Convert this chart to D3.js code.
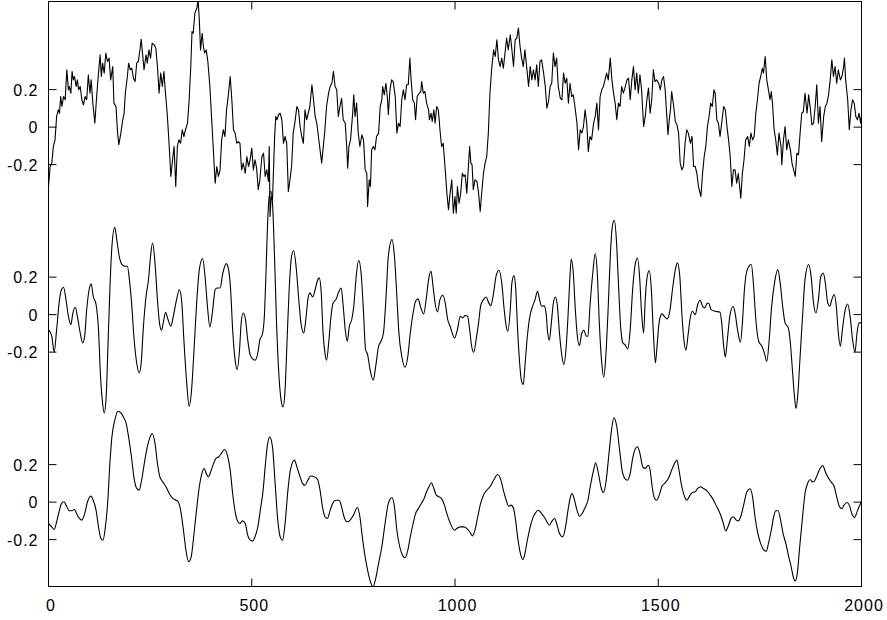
<!DOCTYPE html>
<html>
<head>
<meta charset="utf-8">
<script src="https://cdn.jsdelivr.net/npm/d3@7"></script>
<style>
  body { margin: 0; background: white; }
</style>
</head>
<body>
<div id="viz-container"></div>
<script>
// three traces, stacked one unit apart on a shared y scale
// each point is [sample, value]
let topSeries = [
[0,-0.317],[4,-0.210],[8,-0.192],[12,-0.103],[16,-0.068],[20,0.057],[24,0.092],[27,0.074],[30,0.163],[33,0.110],[37,0.163],[41,0.146],[45,0.306],[49,0.199],[51,0.217],[55,0.181],[58,0.297],[61,0.252],[64,0.270],[68,0.217],[71,0.252],[74,0.199],[78,0.217],[82,0.146],[86,0.119],[90,0.163],[94,0.146],[98,0.279],[102,0.181],[105,0.252],[109,0.128],[114,0.021],[119,0.181],[123,0.288],[127,0.386],[130,0.270],[133,0.341],[137,0.288],[141,0.395],[145,0.350],[149,0.368],[153,0.252],[158,0.323],[161,0.128],[166,0.110],[170,-0.032],[173,-0.094],[178,-0.032],[182,0.030],[186,0.074],[189,0.181],[194,0.270],[197,0.341],[201,0.306],[205,0.314],[209,0.261],[213,0.243],[217,0.341],[221,0.350],[225,0.412],[228,0.469],[232,0.377],[235,0.306],[240,0.386],[243,0.341],[247,0.412],[251,0.368],[255,0.448],[260,0.439],[264,0.421],[268,0.323],[272,0.181],[276,0.288],[280,0.217],[284,0.297],[287,0.199],[292,0.074],[297,-0.103],[301,-0.263],[306,-0.157],[309,-0.103],[313,-0.317],[317,-0.103],[321,-0.068],[325,-0.086],[329,-0.014],[333,-0.050],[337,-0.014],[342,0.021],[346,0.146],[350,0.323],[353,0.510],[356,0.501],[360,0.608],[365,0.635],[368,0.680],[371,0.572],[374,0.412],[378,0.501],[381,0.430],[384,0.395],[388,0.412],[392,0.350],[397,0.217],[401,0.057],[406,-0.139],[410,-0.299],[414,-0.210],[418,-0.263],[422,-0.228],[426,-0.068],[430,-0.014],[434,-0.050],[438,0.092],[442,0.163],[447,0.270],[451,0.146],[455,-0.014],[459,-0.032],[463,-0.086],[467,-0.077],[471,-0.086],[475,-0.228],[479,-0.192],
[484,-0.246],[488,-0.157],[492,-0.210],[496,-0.174],[500,-0.112],[504,-0.228],[508,-0.174],[512,-0.219],[516,-0.334],[520,-0.281],[525,-0.157],[529,-0.139],[533,-0.263],[537,-0.228],[541,-0.290],[543,-0.103],[545,-0.477],[548,-0.370],[551,-0.388],[556,-0.068],[559,0.057],[562,0.039],[566,0.066],[570,0.074],[574,0.039],[578,-0.086],[582,-0.050],[586,-0.086],[590,-0.343],[594,-0.281],[598,-0.210],[602,-0.032],[607,0.039],[611,0.110],[615,0.092],[619,0.003],[623,-0.050],[627,-0.086],[631,0.092],[635,0.039],[639,0.074],[643,0.110],[648,0.226],[652,0.146],[656,0.057],[660,0.021],[664,-0.050],[668,-0.121],[672,-0.192],[676,-0.103],[680,-0.014],[684,0.110],[689,0.181],[693,0.217],[697,0.234],[701,0.297],[705,0.217],[709,0.199],[713,0.057],[717,0.110],[721,0.154],[725,0.039],[730,0.021],[734,-0.121],[736,-0.219],[739,-0.103],[743,-0.068],[748,0.066],[751,0.172],[754,0.057],[758,0.128],[762,-0.032],[766,-0.103],[771,-0.041],[775,-0.068],[779,-0.228],[783,-0.246],[785,-0.423],[789,-0.281],[792,-0.317],[795,-0.121],[799,-0.103],[803,-0.121],[807,-0.050],[812,-0.032],[816,0.110],[820,0.146],[822,0.217],[826,0.172],[830,0.234],[834,0.146],[836,0.066],[840,0.199],[844,0.252],[848,0.243],[853,0.163],[857,-0.032],[861,0.021],[865,0.003],[869,0.146],[873,0.199],[877,0.146],[881,0.226],[885,0.226],[889,0.368],[892,0.252],[896,0.146],[900,0.128],[903,0.039],[907,0.163],[912,0.181],[916,0.190],[918,0.243],[922,0.181],[926,0.190],[930,0.128],[935,0.092],[937,0.039],[941,0.074],[944,0.030],[948,0.092],[951,0.021],[955,0.110],[959,0.092],[963,-0.014],[967,-0.103],[971,-0.086],[976,-0.228],[980,-0.352],[984,-0.441],[988,-0.352],[992,-0.281],[996,-0.459],
[1000,-0.370],[1003,-0.459],[1006,-0.317],[1010,-0.406],[1014,-0.352],[1018,-0.246],[1022,-0.263],[1025,-0.254],[1029,-0.352],[1033,-0.210],[1036,-0.103],[1039,-0.192],[1042,-0.201],[1045,-0.334],[1049,-0.281],[1054,-0.290],[1058,-0.352],[1062,-0.450],[1066,-0.343],[1070,-0.246],[1074,-0.192],[1078,-0.157],[1082,-0.032],[1086,0.181],[1090,0.306],[1095,0.412],[1099,0.377],[1103,0.466],[1107,0.359],[1111,0.323],[1115,0.368],[1119,0.314],[1123,0.395],[1127,0.475],[1131,0.412],[1136,0.492],[1140,0.412],[1144,0.323],[1148,0.466],[1152,0.475],[1156,0.528],[1160,0.430],[1164,0.368],[1168,0.323],[1172,0.412],[1177,0.306],[1181,0.217],[1185,0.323],[1189,0.252],[1193,0.306],[1197,0.252],[1201,0.332],[1205,0.217],[1209,0.350],[1213,0.359],[1218,0.288],[1222,0.217],[1226,0.101],[1230,0.137],[1234,0.217],[1238,0.234],[1242,0.395],[1246,0.323],[1250,0.368],[1254,0.217],[1259,0.154],[1263,0.146],[1267,0.288],[1271,0.234],[1275,0.261],[1279,0.128],[1283,0.234],[1287,0.163],[1291,0.172],[1295,0.110],[1300,0.021],[1304,-0.121],[1308,-0.014],[1312,-0.032],[1316,0.003],[1320,0.092],[1324,0.021],[1328,-0.130],[1332,-0.050],[1336,-0.068],[1341,0.021],[1345,0.057],[1349,0.128],[1353,-0.014],[1357,0.163],[1361,0.199],[1365,0.217],[1369,0.252],[1373,0.288],[1377,0.252],[1382,0.368],[1386,0.252],[1390,0.181],[1394,0.128],[1398,0.039],[1402,0.128],[1406,0.110],[1410,0.217],[1414,0.181],[1418,0.208],[1423,0.252],[1427,0.261],[1431,0.146],[1435,0.252],[1439,0.323],[1443,0.199],[1447,0.288],[1451,0.181],[1455,0.279],[1459,0.199],[1464,0.003],[1468,0.057],[1472,0.146],[1476,0.208],[1480,0.074],[1484,0.146],[1488,0.306],[1492,0.243],[1496,0.252],
[1501,0.234],[1505,0.199],[1509,0.252],[1513,0.270],[1517,0.199],[1521,0.057],[1524,-0.041],[1527,0.039],[1530,0.092],[1533,0.190],[1538,0.110],[1542,0.030],[1546,0.012],[1550,-0.032],[1554,-0.192],[1558,-0.228],[1562,-0.210],[1566,-0.086],[1570,-0.014],[1574,-0.032],[1579,-0.086],[1583,-0.050],[1587,-0.210],[1591,-0.210],[1595,-0.246],[1599,-0.317],[1605,-0.370],[1609,-0.246],[1613,-0.157],[1617,-0.103],[1621,0.003],[1625,0.057],[1629,0.128],[1633,0.110],[1637,0.199],[1640,0.181],[1644,0.039],[1648,0.021],[1652,-0.050],[1656,0.021],[1661,0.110],[1665,0.092],[1669,0.003],[1673,-0.068],[1677,-0.157],[1681,-0.317],[1685,-0.228],[1689,-0.228],[1693,-0.299],[1697,-0.246],[1703,-0.379],[1707,-0.246],[1711,-0.174],[1715,-0.068],[1720,-0.050],[1724,-0.103],[1728,-0.032],[1732,-0.068],[1736,-0.050],[1740,0.074],[1744,0.146],[1748,0.234],[1752,0.270],[1756,0.314],[1759,0.288],[1763,0.377],[1767,0.252],[1771,0.199],[1775,0.146],[1778,0.190],[1781,0.128],[1785,-0.014],[1789,-0.068],[1793,-0.148],[1797,-0.032],[1802,-0.103],[1804,-0.201],[1808,-0.068],[1812,0.003],[1816,-0.121],[1820,-0.068],[1825,-0.121],[1829,-0.192],[1833,-0.228],[1837,-0.263],[1841,-0.139],[1845,-0.148],[1849,-0.032],[1853,0.074],[1857,0.083],[1861,0.181],[1866,0.074],[1870,0.172],[1874,0.101],[1878,0.012],[1882,0.021],[1886,0.110],[1890,0.226],[1894,0.021],[1898,0.110],[1902,-0.077],[1907,0.057],[1911,0.110],[1915,0.128],[1919,0.172],[1923,0.252],[1927,0.359],[1931,0.270],[1935,0.323],[1939,0.234],[1943,0.306],[1948,0.252],[1952,0.270],[1956,0.323],[1958,0.368],[1961,0.252],[1966,0.146],[1970,-0.014],[1974,0.092],[1978,0.146],[1982,0.128],[1986,0.057],[1990,0.039],[1994,0.074],[1998,0.021],[2000,0.060]
];

let middleSeries = [
[0,-0.080],[8,-0.115],[14,-0.199],[20,-0.080],[27,0.080],[32,0.134],[37,0.146],[43,0.080],[49,-0.009],[55,-0.053],[60,0.009],[66,0.039],[71,-0.009],[78,-0.098],[84,-0.151],[89,-0.115],[94,0.027],[100,0.134],[105,0.164],[110,0.098],[117,0.054],[123,-0.080],[128,-0.329],[133,-0.471],[137,-0.524],[142,-0.435],[146,-0.186],[151,0.134],[156,0.365],[163,0.466],[168,0.400],[174,0.311],[181,0.267],[188,0.258],[194,0.258],[199,0.187],[205,0.045],[210,-0.115],[217,-0.258],[223,-0.311],[228,-0.258],[233,-0.080],[240,0.098],[246,0.187],[251,0.311],[256,0.382],[262,0.276],[268,0.080],[273,-0.044],[278,-0.083],[283,-0.035],[288,0.013],[294,-0.026],[301,-0.062],[307,-0.009],[315,0.080],[322,0.134],[328,0.062],[333,-0.133],[340,-0.364],[346,-0.489],[352,-0.400],[358,-0.186],[365,0.080],[371,0.240],[379,0.299],[385,0.205],[391,0.045],[397,-0.066],[404,0.027],[410,0.134],[415,0.142],[422,0.142],[429,0.222],[437,0.272],[443,0.240],[448,0.134],[453,-0.080],[459,-0.240],[464,-0.293],[470,-0.186],[474,-0.044],[479,0.009],
[484,-0.018],[490,-0.133],[496,-0.213],[502,-0.236],[508,-0.243],[515,-0.204],[520,-0.133],[526,-0.107],[531,-0.009],[535,0.222],[539,0.489],[543,0.631],[547,0.658],[551,0.596],[556,0.311],[561,-0.044],[567,-0.329],[572,-0.453],[577,-0.492],[582,-0.400],[587,-0.133],[592,0.134],[598,0.311],[603,0.342],[609,0.258],[615,0.098],[621,-0.044],[628,-0.098],[633,-0.026],[638,0.080],[643,0.116],[650,0.094],[656,0.134],[661,0.178],[666,0.196],[671,0.116],[675,-0.080],[680,-0.204],[684,-0.243],[690,-0.133],[695,-0.009],[700,0.062],[707,0.080],[713,0.116],[720,0.142],[725,0.045],[730,-0.080],[735,-0.142],[740,-0.062],[746,-0.026],[751,0.045],[757,0.205],[763,0.290],[769,0.222],[775,0.009],[780,-0.186],[785,-0.213],[791,-0.293],[799,-0.350],[805,-0.275],[812,-0.169],[818,-0.142],[824,-0.098],[830,0.080],[836,0.311],[845,0.400],[851,0.311],[857,0.098],[862,-0.098],[869,-0.222],[877,-0.281],[884,-0.222],[890,-0.098],[897,0.009],[903,0.071],[909,0.084],[916,0.036],[923,0.004],[929,0.080],[935,0.187],[941,0.231],[946,0.151],[951,0.062],[957,0.014],[963,0.080],[970,0.103],[976,0.062],[982,-0.026],[988,-0.062],[999,-0.124],
[1006,-0.080],[1013,-0.009],[1019,-0.018],[1025,-0.005],[1031,-0.009],[1036,-0.080],[1041,-0.169],[1046,-0.201],[1052,-0.133],[1058,-0.044],[1063,0.045],[1070,0.080],[1077,0.094],[1083,0.062],[1088,0.048],[1095,0.116],[1101,0.205],[1108,0.237],[1115,0.169],[1121,0.027],[1126,-0.062],[1130,-0.089],[1136,0.027],[1140,0.169],[1145,0.208],[1149,0.151],[1154,-0.080],[1159,-0.258],[1163,-0.347],[1168,-0.373],[1172,-0.275],[1178,-0.115],[1185,0.000],[1191,0.045],[1197,0.080],[1203,0.125],[1208,0.080],[1213,0.045],[1219,0.048],[1224,0.009],[1228,-0.098],[1232,-0.137],[1237,-0.044],[1242,0.062],[1247,0.094],[1252,0.045],[1257,-0.098],[1263,-0.222],[1268,-0.267],[1273,-0.186],[1278,-0.009],[1282,0.169],[1286,0.297],[1291,0.222],[1296,0.027],[1301,-0.115],[1306,-0.165],[1312,-0.098],[1317,-0.083],[1323,-0.115],[1327,-0.115],[1332,0.045],[1339,0.222],[1345,0.326],[1350,0.222],[1355,-0.044],[1361,-0.258],[1366,-0.334],[1371,-0.222],[1377,0.045],[1382,0.311],[1387,0.471],[1392,0.503],[1397,0.400],[1402,0.169],[1408,-0.080],[1413,-0.151],[1418,-0.160],[1425,-0.183],[1431,-0.080],[1437,0.134],[1444,0.276],[1449,0.302],[1454,0.205],[1459,0.009],[1464,-0.098],[1468,0.080],[1473,0.205],[1478,0.235],[1483,0.134],[1488,-0.098],[1493,-0.258],
[1497,-0.169],[1502,-0.044],[1509,0.004],[1515,-0.009],[1522,-0.023],[1529,0.027],[1535,0.134],[1542,0.240],[1547,0.276],[1553,0.205],[1558,0.009],[1563,-0.133],[1568,-0.190],[1573,-0.115],[1578,-0.026],[1584,0.018],[1591,0.000],[1597,0.054],[1603,0.077],[1609,0.045],[1614,0.036],[1620,0.059],[1624,0.062],[1630,0.027],[1640,0.018],[1652,0.013],[1656,-0.044],[1661,-0.169],[1665,-0.226],[1670,-0.133],[1676,-0.009],[1684,0.045],[1689,0.009],[1695,-0.080],[1702,-0.147],[1707,-0.044],[1712,0.134],[1719,0.240],[1729,0.267],[1734,0.169],[1740,-0.026],[1747,-0.142],[1755,-0.169],[1761,-0.204],[1767,-0.249],[1773,-0.133],[1779,0.045],[1786,0.169],[1794,0.240],[1800,0.169],[1806,0.045],[1812,-0.044],[1820,-0.071],[1825,-0.151],[1830,-0.293],[1835,-0.435],[1839,-0.501],[1843,-0.435],[1849,-0.222],[1855,-0.009],[1861,0.187],[1870,0.267],[1876,0.205],[1882,0.062],[1888,0.009],[1894,0.080],[1900,0.205],[1906,0.222],[1911,0.169],[1917,0.062],[1922,0.045],[1927,0.080],[1933,0.107],[1938,0.045],[1943,-0.098],[1948,-0.169],[1953,-0.080],[1960,0.027],[1966,0.057],[1972,-0.009],[1978,-0.133],[1984,-0.199],[1989,-0.098],[1994,-0.044],[2000,-0.044]
];

let bottomSeries = [
[0,-0.114],[8,-0.132],[14,-0.146],[20,-0.105],[27,-0.043],[32,-0.007],[38,0.002],[45,-0.025],[51,-0.046],[57,-0.046],[64,-0.039],[69,-0.061],[76,-0.087],[82,-0.096],[89,-0.061],[96,0.002],[104,0.032],[110,0.010],[117,-0.043],[123,-0.132],[129,-0.194],[134,-0.203],[140,-0.132],[146,0.010],[151,0.206],[156,0.348],[163,0.437],[171,0.485],[178,0.476],[184,0.455],[191,0.420],[197,0.348],[204,0.242],[210,0.135],[217,0.073],[223,0.064],[229,0.117],[237,0.224],[243,0.295],[250,0.348],[255,0.366],[262,0.313],[268,0.206],[274,0.135],[281,0.108],[289,0.082],[297,0.046],[306,0.019],[314,0.010],[319,0.002],[325,-0.043],[332,-0.150],[338,-0.256],[345,-0.318],[351,-0.292],[358,-0.167],[365,-0.025],[371,0.082],[378,0.157],[383,0.179],[388,0.153],[393,0.135],[399,0.162],[406,0.206],[412,0.233],[419,0.242],[425,0.259],[433,0.281],[440,0.251],[447,0.171],[453,0.046],[460,-0.061],[466,-0.105],[471,-0.114],[477,-0.100],
[484,-0.114],[490,-0.176],[496,-0.203],[502,-0.208],[508,-0.185],[515,-0.132],[521,-0.043],[528,0.064],[533,0.188],[538,0.295],[544,0.348],[551,0.295],[557,0.117],[564,-0.096],[570,-0.185],[576,-0.203],[582,-0.114],[589,0.064],[595,0.171],[605,0.224],[611,0.188],[619,0.135],[625,0.099],[631,0.090],[638,0.117],[645,0.139],[654,0.135],[662,0.121],[668,0.064],[674,-0.025],[680,-0.078],[686,-0.087],[693,-0.043],[699,-0.007],[707,0.010],[715,0.010],[721,-0.025],[727,-0.078],[734,-0.105],[742,-0.096],[750,-0.070],[760,-0.029],[766,-0.078],[772,-0.185],[779,-0.292],[785,-0.363],[792,-0.425],[798,-0.452],[805,-0.407],[812,-0.327],[820,-0.238],[828,-0.114],[836,-0.007],[845,0.025],[851,-0.025],[857,-0.150],[864,-0.238],[871,-0.283],[877,-0.297],[884,-0.256],[890,-0.185],[897,-0.114],[903,-0.061],[910,-0.034],[917,-0.007],[924,0.019],[930,0.055],[936,0.082],[942,0.103],[948,0.073],[954,0.037],[961,0.028],[967,0.019],[974,-0.016],[980,-0.061],[987,-0.105],[999,-0.150],
[1004,-0.141],[1013,-0.132],[1022,-0.132],[1029,-0.141],[1036,-0.158],[1043,-0.180],[1049,-0.150],[1056,-0.078],[1063,-0.007],[1070,0.037],[1078,0.064],[1086,0.082],[1095,0.117],[1105,0.147],[1113,0.117],[1119,0.064],[1126,0.010],[1132,-0.022],[1138,-0.016],[1144,-0.034],[1149,-0.096],[1154,-0.185],[1160,-0.265],[1167,-0.306],[1172,-0.274],[1178,-0.203],[1185,-0.132],[1191,-0.087],[1198,-0.057],[1205,-0.043],[1213,-0.061],[1219,-0.078],[1226,-0.105],[1232,-0.123],[1239,-0.100],[1245,-0.087],[1250,-0.114],[1257,-0.167],[1265,-0.185],[1272,-0.132],[1278,-0.043],[1284,0.028],[1288,0.046],[1293,0.019],[1300,-0.043],[1306,-0.075],[1313,-0.061],[1319,-0.034],[1327,0.010],[1334,0.099],[1341,0.171],[1346,0.210],[1352,0.162],[1359,0.082],[1365,0.050],[1372,0.117],[1378,0.242],[1385,0.384],[1391,0.450],[1398,0.402],[1405,0.277],[1411,0.171],[1418,0.126],[1424,0.117],[1431,0.153],[1437,0.233],[1444,0.286],[1449,0.295],[1455,0.259],[1462,0.188],[1468,0.179],[1475,0.197],[1480,0.171],[1485,0.082],[1491,0.019],[1496,0.010],[1505,0.055],
[1509,0.085],[1517,0.103],[1525,0.126],[1533,0.171],[1540,0.206],[1546,0.224],[1551,0.171],[1558,0.082],[1565,0.028],[1570,0.010],[1576,0.028],[1583,0.050],[1591,0.055],[1597,0.073],[1604,0.082],[1611,0.073],[1620,0.060],[1628,0.037],[1636,0.010],[1644,-0.025],[1652,-0.061],[1659,-0.105],[1666,-0.153],[1673,-0.123],[1679,-0.087],[1685,-0.078],[1692,-0.096],[1697,-0.100],[1704,-0.070],[1711,-0.007],[1718,0.055],[1726,0.071],[1732,0.028],[1738,-0.078],[1745,-0.167],[1752,-0.221],[1759,-0.253],[1766,-0.262],[1771,-0.221],[1778,-0.150],[1784,-0.078],[1789,-0.046],[1795,-0.046],[1801,-0.096],[1807,-0.167],[1814,-0.221],[1820,-0.283],[1827,-0.345],[1832,-0.398],[1837,-0.420],[1842,-0.381],[1848,-0.238],[1855,-0.078],[1861,0.046],[1868,0.103],[1874,0.121],[1879,0.108],[1884,0.112],[1891,0.144],[1898,0.179],[1905,0.195],[1911,0.162],[1917,0.135],[1925,0.108],[1933,0.082],[1939,0.028],[1946,-0.025],[1952,-0.034],[1957,-0.016],[1964,-0.002],[1970,-0.016],[1976,-0.061],[1983,-0.082],[1989,-0.052],[1994,-0.025],[2000,0.002]
];

// how far each trace is shifted up
let offsets = [2, 1, 0];
let xTicks = [0, 500, 1000, 1500, 2000];
let yTicks = [-0.2, 0, 0.2];
let yTickLabels = ["-0.2", "0", "0.2"];

let w = 887;
let h = 620;
let plotLeft = 48.5, plotRight = 861.5, plotTop = 1.5, plotBottom = 586.5;

let viz = d3.select("#viz-container")
  .append("svg")
    .attr("width", w)
    .attr("height", h)
    .style("background-color", "white")
    .style("display", "block");

let x = d3.scaleLinear().domain([0, 2000]).range([plotLeft, plotRight]);
let y = d3.scaleLinear().domain([-0.45, 2.67]).range([plotBottom, plotTop]);

viz.append("clipPath").attr("id", "plot-clip")
  .append("rect")
    .attr("x", plotLeft).attr("y", plotTop)
    .attr("width", plotRight - plotLeft).attr("height", plotBottom - plotTop);

let fontFamily = "'Liberation Sans', Arial, Helvetica, sans-serif";

function styleAxis(g) {
  g.select(".domain").remove();
  g.attr("font-family", fontFamily).attr("font-size", 16);
  g.selectAll("line").attr("stroke", "black");
  g.selectAll("text").attr("letter-spacing", 1).attr("fill", "black");
}

// bottom + top axis
viz.append("g")
  .attr("transform", "translate(0," + plotBottom + ")")
  .call(d3.axisBottom(x).tickValues(xTicks).tickSize(-8).tickPadding(13).offset(0)
    .tickFormat(d3.format("d")))
  .call(styleAxis)
  .selectAll("text").attr("dx", 2.5);

viz.append("g")
  .attr("transform", "translate(0," + plotTop + ")")
  .call(d3.axisTop(x).tickValues(xTicks).tickSize(-8).tickFormat("").offset(0))
  .call(styleAxis);

// left + right ticks for every trace
offsets.forEach(function(off) {
  let vals = yTicks.map(function(t) { return t + off; });

  viz.append("g")
    .attr("transform", "translate(" + plotLeft + ",0)")
    .call(d3.axisLeft(y).tickValues(vals).tickSize(-8).tickPadding(10).offset(0)
      .tickFormat(function(d, i) { return yTickLabels[i]; }))
    .call(styleAxis)
    .selectAll("text").attr("dy", "0.38em");

  viz.append("g")
    .attr("transform", "translate(" + plotRight + ",0)")
    .call(d3.axisRight(y).tickValues(vals).tickSize(-8).tickFormat("").offset(0))
    .call(styleAxis);
});

// frame
viz.append("rect")
  .attr("x", plotLeft).attr("y", plotTop)
  .attr("width", plotRight - plotLeft).attr("height", plotBottom - plotTop)
  .attr("fill", "none")
  .attr("stroke", "black")
  .attr("stroke-width", 1);

function drawTrace(data, off, curve) {
  let line = d3.line()
    .x(function(d) { return x(d[0]); })
    .y(function(d) { return y(d[1] + off); })
    .curve(curve);

  viz.append("path")
    .datum(data)
    .attr("clip-path", "url(#plot-clip)")
    .attr("fill", "none")
    .attr("stroke", "black")
    .attr("stroke-width", 1.1)
    .attr("stroke-linejoin", "round")
    .attr("d", line);
}

drawTrace(topSeries, offsets[0], d3.curveLinear);
drawTrace(middleSeries, offsets[1], d3.curveMonotoneX);
drawTrace(bottomSeries, offsets[2], d3.curveMonotoneX);
</script>
</body>
</html>
